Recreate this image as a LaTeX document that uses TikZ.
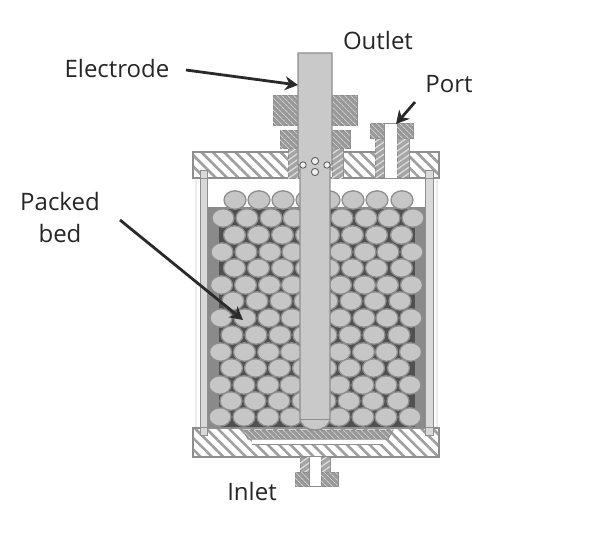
\documentclass[tikz,border=0pt]{standalone}
\usepackage{fontspec}
\setmainfont{Open Sans}
\usetikzlibrary{patterns.meta,arrows.meta}
\definecolor{edgeg}{HTML}{8E8E8E}
\definecolor{ballg}{HTML}{C6C6C6}
\definecolor{darkg}{HTML}{8A8A8A}
\definecolor{gapg}{HTML}{505050}
\definecolor{arrowg}{HTML}{2A2A2A}
\tikzset{
  label text/.style={font=\fontsize{24}{32}\selectfont,text=black!85,inner sep=0pt,align=center},
  pointer/.style={draw=arrowg,line width=2.8pt,-{Stealth[length=13pt,width=14pt]}},
  plate/.style={draw=edgeg,line width=1.2pt,pattern={Lines[angle=-45,distance=8pt,line width=2.6pt]},pattern color=edgeg!85},
  nut/.style={draw=edgeg,line width=1pt,fill=edgeg!90,postaction={pattern={Lines[angle=-45,distance=4pt,line width=1pt]},pattern color=gray!40}},
  thread/.style={draw=edgeg,line width=.8pt,fill=edgeg!80,postaction={pattern={Lines[angle=35,distance=5pt,line width=1.2pt]},pattern color=gray!25}},
  rod/.style={draw=edgeg,line width=1pt,fill=gray!30},
  ball/.style={draw=edgeg,line width=1.3pt,fill=ballg},
  electrode/.style={draw=edgeg,line width=1.4pt,fill=ballg!95!white},
  hole/.style={draw=gray!75!black,line width=.9pt,fill=gray!12},
}
\begin{document}
\begin{tikzpicture}[x=1pt,y=-1pt]
\useasboundingbox (0,0) rectangle (605,539);
% faint outer lines
\draw[gray!15,line width=2pt] (196,180) -- (196,428) (437,180) -- (437,428);
% bed
\fill[darkg] (207,207) rectangle (425,430);
\fill[gapg] (219,209) rectangle (415,428);
% spheres
\foreach \yy/\dx in {200/0,235/-.5,268/-.5,301/-2,335/-3,368/-3.5,401/-4}{
  \foreach \xx in {235,259,283,307,329,353,377,402}
    \draw[ball] (\xx+\dx,\yy) ellipse [x radius=11,y radius=9.2];
}
\foreach \yy/\dx in {218/0,252/-1,285/-1.5,318/-2,352/-2.5,385/-3,417/-3}{
  \foreach \xx in {223,247,271,294,342,366,389,413}
    \draw[ball] (\xx+\dx,\yy) ellipse [x radius=11,y radius=9.2];
}
% tie rods
\draw[rod] (200,170) -- (200,430) -- (207,430) -- (207,170) -- cycle;
\draw[rod] (425,170) -- (425,430) -- (433,430) -- (433,170) -- cycle;
% top plate
\fill[white] (193,152) rectangle (439,178);
\draw[plate] (193,152) rectangle (439,178);
\draw[rod] (200,170) -- (200,178) -- (207,178) -- (207,170) -- cycle;
\draw[rod] (425,170) -- (425,178) -- (433,178) -- (433,170) -- cycle;
% electrode gland
\draw[thread] (288,148) rectangle (298,178);
\draw[thread] (332,148) rectangle (343,178);
\draw[nut] (280,130) rectangle (298,148);
\draw[nut] (332,130) rectangle (350,148);
\draw[nut] (273,95) rectangle (298,125);
\draw[nut] (332,95) rectangle (357,125);
% port
\fill[white] (384,123) rectangle (397,178);
\draw[thread] (375,138) rectangle (384,177);
\draw[thread] (397,138) rectangle (409,177);
\draw[nut] (370,123) rectangle (384,138);
\draw[nut] (397,123) rectangle (413,138);
\draw[edgeg,line width=.6pt] (384,123) -- (397,123);
% bottom plate
\fill[white] (193,428) rectangle (439,457);
\draw[plate] (193,428) rectangle (439,457);
\fill[white] (252,438) rectangle (383,444);
\draw[edgeg,line width=.8pt] (252,444) -- (383,444);
\draw[nut] (243,430) -- (393,430) -- (388,439) -- (248,439) -- cycle;
\draw[rod] (200,428) -- (200,435) -- (207,435) -- (207,428);
\draw[rod] (425,428) -- (425,435) -- (433,435) -- (433,428);
% electrode
\draw[electrode] (298,53) -- (332,53) -- (332,165) -- (330,165) -- (330,418) .. controls (330,426) and (322,430) .. (315,430) .. controls (308,430) and (300,426) .. (300,418) -- (300,165) -- (298,165) -- cycle;
\draw[edgeg,line width=1pt] (301,419) -- (329,419);
\draw[hole] (303,165) circle (3.2);
\draw[hole] (315,161) circle (3.6);
\draw[hole] (315,172) circle (3.6);
\draw[hole] (327,165) circle (3.2);
% inlet
\fill[white] (309,457) rectangle (321,486);
\draw[thread] (300,457) rectangle (309,472);
\draw[thread] (321,457) rectangle (330,472);
\draw[nut] (295,472) rectangle (309,486);
\draw[nut] (321,472) rectangle (338,486);
\draw[edgeg,line width=.8pt] (309,486) -- (321,486);
% labels
\node[label text] (outlet) at (378,40) {Outlet};
\node[label text] (electrodelabel) at (117,68) {Electrode};
\node[label text] (port) at (449,84) {Port};
\node[label text] (packed) at (60,217) {Packed\\bed};
\node[label text] (inlet) at (252,491) {Inlet};
% pointers
\coordinate (electrodetail) at (186,70);
\coordinate (electrodetip) at (298,85);
\coordinate (porttail) at (415,102);
\coordinate (porttip) at (396,124);
\coordinate (bedtail) at (120,220);
\coordinate (bedtip) at (243,320);
\draw[pointer] (electrodetail) -- (electrodetip);
\draw[pointer] (porttail) -- (porttip);
\draw[pointer] (bedtail) -- (bedtip);
\end{tikzpicture}
\end{document}
